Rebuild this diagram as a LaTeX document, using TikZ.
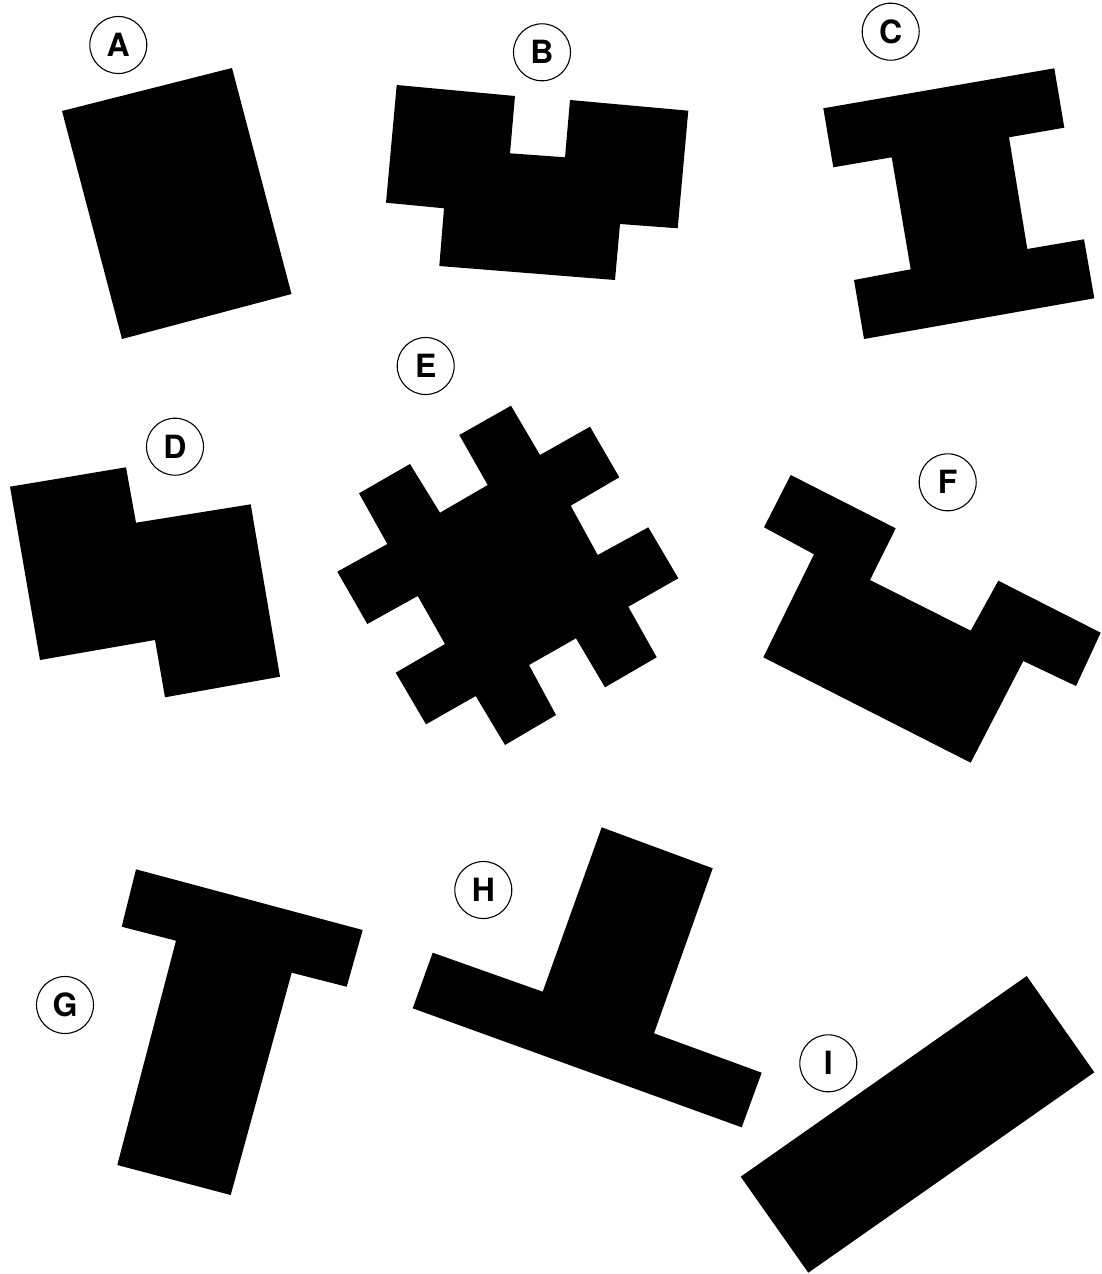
\documentclass[tikz,border=0pt]{standalone}
\usepackage{fontspec}
\setmainfont{TeX Gyre Heros}
\begin{document}
\begin{tikzpicture}[x=1pt,y=-1pt,
  blk/.style={fill=black,draw=none},
  lbl/.style={circle,draw=black,line width=1.1pt,minimum size=57pt,inner sep=0pt,font=\fontsize{32}{32}\selectfont\bfseries}]
\useasboundingbox (0,0) rectangle (1102,1274);
% A
\fill[blk] (62,111) -- (232,68) -- (291.5,294) -- (122,339) -- cycle;
\node[lbl] (lA) at (118.3,45) {A};
% B
\fill[blk] (396.7,85) -- (515,96) -- (510,153.3) -- (565,157.3) -- (570,100) -- (688.3,110.7)
  -- (677.7,228.3) -- (620,224) -- (615,280) -- (439.3,266) -- (444,208.3) -- (386,202.7) -- cycle;
\node[lbl] (lB) at (542,52.3) {B};
% C
\fill[blk] (823.3,108.3) -- (1054.3,68.3) -- (1064.3,127.7) -- (1009,137.3) -- (1027.3,249)
  -- (1084,239.3) -- (1094.3,298.3) -- (864,339) -- (854,280) -- (910.7,269.3)
  -- (891.7,157.3) -- (833.3,167.3) -- cycle;
\node[lbl] (lC) at (890.7,31.7) {C};
% D
\fill[blk] (10,486.7) -- (126,467.3) -- (136,522.7) -- (250.7,504.3) -- (280,676.7)
  -- (165,697.3) -- (155,640) -- (40,660) -- cycle;
\node[lbl] (lD) at (175,446.7) {D};
% E
\fill[blk] (459.3,435) -- (511,405.7) -- (540,455) -- (590,426.7) -- (619.3,477.3)
  -- (570.7,505.7) -- (597.7,555) -- (648.3,527.3) -- (678.3,578.3) -- (628.3,606.7)
  -- (656.7,657.3) -- (605,687.3) -- (576,638.3) -- (529,665) -- (556,715) -- (505,745)
  -- (475.7,696) -- (426,724.3) -- (395.7,672.7) -- (445,644) -- (417.7,596)
  -- (367.3,624) -- (337.3,571.7) -- (387.3,544) -- (359,493.3) -- (410,464)
  -- (440,512.7) -- (487.7,485) -- cycle;
\node[lbl] (lE) at (425.7,366) {E};
% F
\fill[blk] (790.7,475) -- (895.7,528.3) -- (870,580) -- (970.7,630.7) -- (998.3,580.7)
  -- (1100.7,632.7) -- (1076,686) -- (1023.3,661) -- (970.7,762.7) -- (763.3,657.3)
  -- (814,554.3) -- (764,527.3) -- cycle;
\node[lbl] (lF) at (947.7,482.3) {F};
% G
\fill[blk] (136,869.3) -- (362.7,930) -- (346.7,986.7) -- (291.7,972.7) -- (230.7,1195)
  -- (117.3,1165) -- (176,940.7) -- (121.7,926.7) -- cycle;
\node[lbl] (lG) at (65,1005) {G};
% H
\fill[blk] (601.7,827.3) -- (712.7,868.3) -- (654,1033.3) -- (761.7,1072.7) -- (741.7,1127.3)
  -- (412.7,1008.3) -- (432.7,952.7) -- (542.7,991.7) -- cycle;
\node[lbl] (lH) at (483.3,890) {H};
% I
\fill[blk] (1026.7,976) -- (1094.3,1072.3) -- (808.3,1272.7) -- (740.7,1176.7) -- cycle;
\node[lbl] (lI) at (828.3,1063.3) {I};
\end{tikzpicture}
\end{document}
